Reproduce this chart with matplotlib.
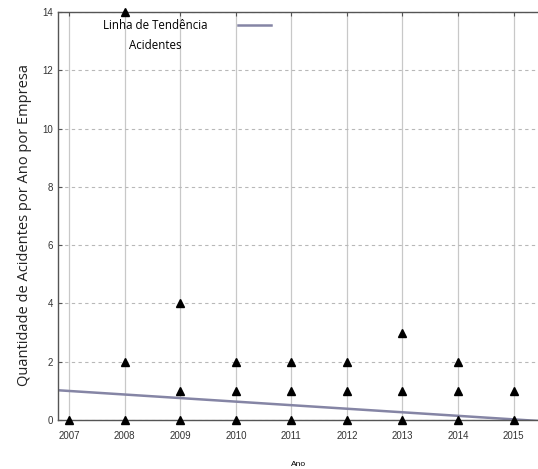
import matplotlib
matplotlib.use('Agg')
import matplotlib.pyplot as plt

# Dados
anos = [2007, 2008, 2009, 2010, 2011, 2012, 2013, 2014, 2015]
acid_x = [2007,
          2008, 2008, 2008,
          2009, 2009, 2009,
          2010, 2010, 2010,
          2011, 2011, 2011,
          2012, 2012, 2012,
          2013, 2013, 2013,
          2014, 2014, 2014,
          2015, 2015]
acid_y = [0,
          0, 2, 14,
          0, 1, 4,
          0, 1, 2,
          0, 1, 2,
          0, 1, 2,
          0, 1, 3,
          0, 1, 2,
          0, 1]
tend_x = [2006.8, 2015.5]
tend_y = [1.02, -0.04]
yticks = [0, 2, 4, 6, 8, 10, 12, 14]

fig = plt.figure(figsize=(5.38, 4.69), dpi=100)
ax = fig.add_axes([0.108, 0.1045, 0.895, 0.87])

ax.plot(tend_x, tend_y, color='#8585a5', lw=1.8, label='Linha de Tendência')
ax.plot(acid_x, acid_y, 'k^', ms=6, clip_on=False, zorder=5)

ax.set_xlim(2006.8, 2015.47)
ax.set_ylim(0, 14)
ax.set_xticks(anos)
ax.set_yticks(yticks)
ax.tick_params(labelsize=7, direction='in', length=3, color='#555555', top=True)
ax.tick_params(axis='x', pad=8)
for lab in ax.get_xticklabels() + ax.get_yticklabels():
    lab.set_family('Liberation Sans')
    lab.set_color('#333333')

ax.xaxis.grid(True, color='#c8c8c8', lw=0.9)
ax.yaxis.grid(True, color='#b8b8b8', lw=0.8, ls=(0, (3, 3)))
for s in ax.spines.values():
    s.set_color('#555555')
    s.set_linewidth(1.0)

ax.set_xlabel('Ano', fontsize=6, family='Liberation Sans', labelpad=14)
ax.set_ylabel('Quantidade de Acidentes por Ano por Empresa', fontsize=10.5,
              family='Open Sans', color='#222222')
ax.yaxis.set_label_coords(-0.055, 0.478)

leg = ax.legend(loc='upper left', bbox_to_anchor=(0.094, 0.983), frameon=False,
                markerfirst=False, handlelength=2.9, handletextpad=2.6,
                borderpad=0, borderaxespad=0,
                prop={'family': 'Open Sans', 'size': 8.3})
ax.text(0.202, 0.919, 'Acidentes', transform=ax.transAxes, ha='center', va='center',
        family='Open Sans', fontsize=8.3)

fig.savefig('out.png', dpi=100)
